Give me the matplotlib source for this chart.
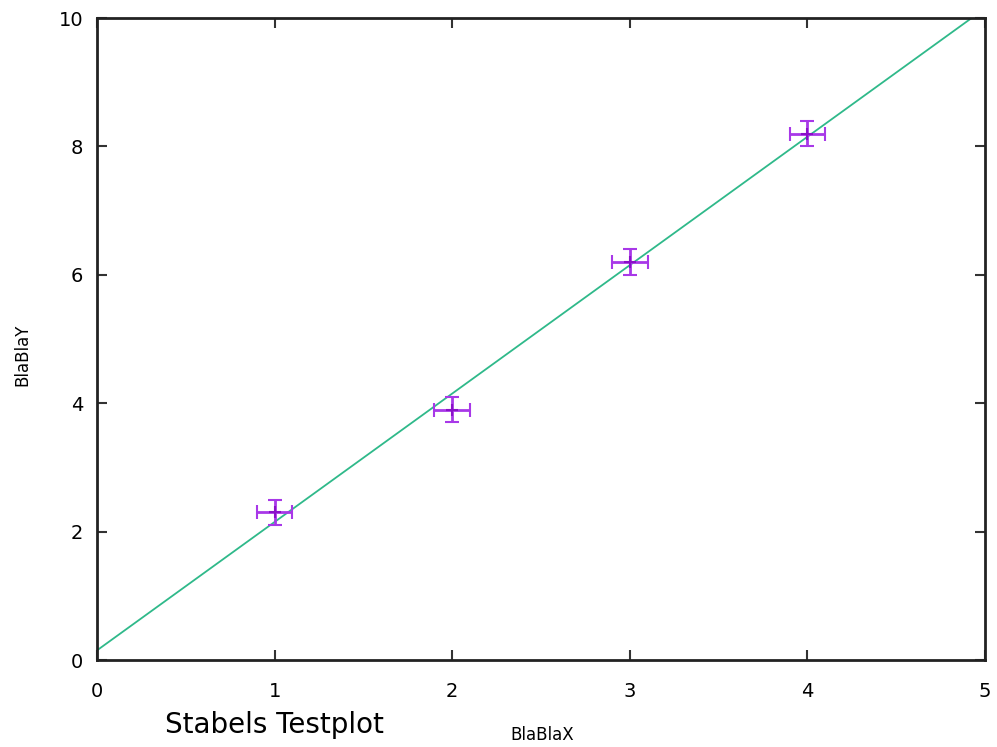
#! python3
# -*- coding: utf-8 -*-

import numpy as np
import matplotlib
matplotlib.use('Agg')
import matplotlib.pyplot as plt


# measured points with errors
x_vals = [1, 2, 3, 4]
y_vals = [2.3, 3.9, 6.2, 8.2]
x_err = [0.1, 0.1, 0.1, 0.1]
y_err = [0.2, 0.2, 0.2, 0.2]

# fitted line f(x) = a*x + b
fit_a = 2.0
fit_b = 0.15

x_ticks = [0, 1, 2, 3, 4, 5]
y_ticks = [0, 2, 4, 6, 8, 10]


def main():
    fig = plt.figure(figsize=(9.97, 7.47), dpi=100)
    ax = fig.add_axes([97 / 997, 1 - 660 / 747, 888 / 997, 642 / 747])

    # fit line over the whole x range
    xs = np.array([0, 5])
    ax.plot(xs, fit_a * xs + fit_b, color='#2fb98a', linewidth=1.3, zorder=2)

    ax.errorbar(x_vals, y_vals, xerr=x_err, yerr=y_err, fmt='+', color='#8a10c8',
                ecolor='#a838e8', elinewidth=2, capsize=5, capthick=2,
                markersize=9, markeredgewidth=1.5, zorder=3)

    ax.set_xlim(0, 5)
    ax.set_ylim(0, 10)
    ax.set_xticks(x_ticks)
    ax.set_yticks(y_ticks)
    ax.tick_params(direction='in', top=True, right=True, length=7, width=1.5,
                   labelsize=14, color='#333333')
    ax.tick_params(axis='x', pad=16)
    ax.tick_params(axis='y', pad=10)
    for spine in ax.spines.values():
        spine.set_linewidth(2)
        spine.set_color('#222222')

    fig.text(22 / 997, 1 - 355 / 747, 'BlaBlaY', rotation=90, ha='center', va='center', fontsize=12)
    fig.text(542 / 997, 1 - 735 / 747, 'BlaBlaX', ha='center', va='center', fontsize=12)
    fig.text(274 / 997, 1 - 725 / 747, 'Stabels Testplot', ha='center', va='center', fontsize=20)

    fig.savefig('out.png', dpi=100)
    plt.close(fig)


if __name__ == '__main__':
    main()
